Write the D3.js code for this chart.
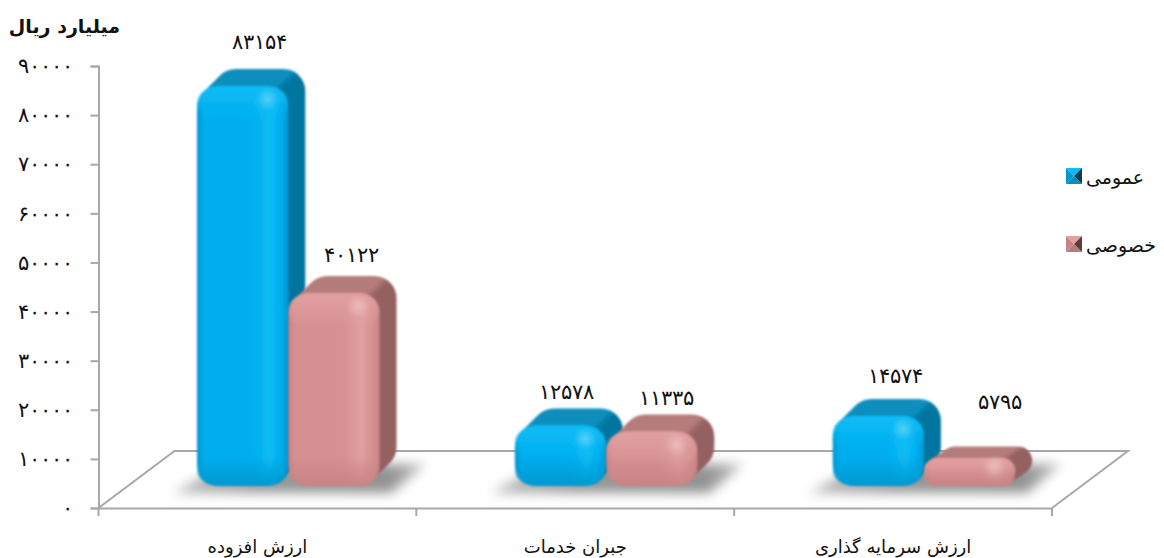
<!DOCTYPE html>
<html lang="fa">
<head>
<meta charset="utf-8">
<script src="https://cdnjs.cloudflare.com/ajax/libs/d3/7.8.5/d3.min.js"></script>
<style>
	html, body { margin: 0; padding: 0; background: #fff; }
	text { font-family: "DejaVu Sans", sans-serif; fill: #111; }
</style>
</head>
<body>
<div id="chart"></div>
<script>
const categories = ["ارزش افزوده", "جبران خدمات", "ارزش سرمایه گذاری"];
const seriesNames = ["عمومی", "خصوصی"];
const publicValues = [83154, 12578, 14574];
const privateValues = [40122, 11335, 5795];
const yTicks = [0, 10000, 20000, 30000, 40000, 50000, 60000, 70000, 80000, 90000];
const unitLabel = "میلیارد ریال";

const width = 1164;
const height = 558;
const axisColor = "#a8a8a8";
const depth = 17;
const floorDx = 76;
const floorDy = 57;

// labels don't sit at a constant distance from the bars in the original
const labelNudge = [
	[[0, -4], [1, 2]],
	[[-11, 7], [-2, 7]],
	[[0, 0], [13, -16]],
];

const palette = [
	{ light: "#0cbcf5", front: "#00aeef", edge: "#0098d0", top: "#0a8ebd", side: "#00749f", deep: "#0b3d55" },
	{ light: "#e2a0a0", front: "#d69091", edge: "#c88485", top: "#b57b7b", side: "#946060", deep: "#5c3c3c" },
];

const toPersian = (n) =>
	String(n).replace(/\d/g, (d) => "۰۱۲۳۴۵۶۷۸۹"[+d]);

const svg = d3
	.select("#chart")
	.append("svg")
	.attr("width", width)
	.attr("height", height)
	.style("display", "block");

const defs = svg.append("defs");
defs.append("filter")
	.attr("id", "soft")
	.append("feGaussianBlur")
	.attr("stdDeviation", 0.8);
defs.append("filter")
	.attr("id", "shadowBlur")
	.attr("x", "-20%")
	.attr("width", "140%")
	.attr("y", "-40%")
	.attr("height", "180%")
	.append("feGaussianBlur")
	.attr("stdDeviation", 6);

palette.forEach((c, i) => {
	const front = defs.append("linearGradient").attr("id", `front${i}`);
	[[0, c.edge], [0.08, c.front], [0.6, c.front], [0.8, c.light], [0.92, c.front], [1, c.edge]].forEach(
		([o, col]) => front.append("stop").attr("offset", o).attr("stop-color", col)
	);
	const back = defs.append("linearGradient").attr("id", `back${i}`);
	[[0, c.top], [0.84, c.top], [0.92, c.side], [1, c.side]].forEach(([o, col]) =>
		back.append("stop").attr("offset", o).attr("stop-color", col)
	);
	const cap = defs.append("linearGradient").attr("id", `cap${i}`).attr("x2", 0).attr("y2", 1);
	cap.append("stop").attr("offset", 0).attr("stop-color", c.light);
	cap.append("stop").attr("offset", 1).attr("stop-color", c.light).attr("stop-opacity", 0);
	const foot = defs.append("linearGradient").attr("id", `foot${i}`).attr("x2", 0).attr("y2", 1);
	foot.append("stop").attr("offset", 0).attr("stop-color", c.edge).attr("stop-opacity", 0);
	foot.append("stop").attr("offset", 1).attr("stop-color", c.edge);
});

const glow = defs.append("radialGradient").attr("id", "glow");
glow.append("stop").attr("offset", 0).attr("stop-color", "#fff").attr("stop-opacity", 0.3);
glow.append("stop").attr("offset", 1).attr("stop-color", "#fff").attr("stop-opacity", 0);

const shade = defs.append("linearGradient").attr("id", "shade");
shade.append("stop").attr("offset", 0).attr("stop-color", "#bcbcbc");
shade.append("stop").attr("offset", 0.35).attr("stop-color", "#979797");
shade.append("stop").attr("offset", 0.85).attr("stop-color", "#929292");
shade.append("stop").attr("offset", 1).attr("stop-color", "#c0c0c0");

// Scales: the axis runs on the back wall, bars stand further forward on the floor
const xScale = d3.scaleBand().domain(categories).range([98.5, 1052]);
const yScale = d3.scaleLinear().domain([0, 90000]).range([508, 66]);
const barScale = d3.scaleLinear().domain([0, 90000]).range([486, 53]);
const innerScale = d3.scaleBand().domain(seriesNames).range([98.5, 281]);

// Floor
const floorY = yScale(0);
const x0 = xScale.range()[0];
const x1 = xScale.range()[1];
svg.append("path")
	.attr(
		"d",
		d3.line()([
			[x0, floorY],
			[x0 + floorDx, floorY - floorDy],
			[x1 + floorDx, floorY - floorDy],
			[x1, floorY],
		])
	)
	.attr("fill", "none")
	.attr("stroke", axisColor)
	.attr("stroke-width", 2);

// Axes
const yAxis = svg
	.append("g")
	.attr("transform", `translate(${x0}, 0)`)
	.call(
		d3.axisLeft(yScale).tickValues(yTicks).tickFormat(toPersian).tickSize(8).tickPadding(18)
	);
const xAxis = svg
	.append("g")
	.attr("transform", `translate(0, ${floorY})`)
	.call(d3.axisBottom(xScale).tickSize(0).tickPadding(32));

svg.append("g")
	.selectAll("line")
	.data(d3.range(categories.length + 1))
	.join("line")
	.attr("x1", (i) => x0 + i * xScale.step())
	.attr("x2", (i) => x0 + i * xScale.step())
	.attr("y1", floorY)
	.attr("y2", floorY + 8)
	.attr("stroke", axisColor)
	.attr("stroke-width", 2);

[yAxis, xAxis].forEach((axis) => {
	axis.selectAll("path, line").attr("stroke", axisColor).attr("stroke-width", 2);
	axis.attr("font-family", null).attr("font-size", null);
});
yAxis.selectAll("text").style("font-size", "21px").style("letter-spacing", "5px").style("font-weight", 200);
xAxis.selectAll("text").style("font-size", "18px");

// Bars
const rows = categories.map((name, c) => ({
	name,
	c,
	bars: [publicValues[c], privateValues[c]].map((value, s) => ({ value, s, c })),
}));

const groups = svg
	.append("g")
	.selectAll("g")
	.data(rows)
	.join("g")
	.attr("transform", (d) => `translate(${xScale(d.name)}, 0)`);

// Floor shadow behind each pair
groups
	.append("path")
	.attr("d", () => {
		const left = innerScale(seriesNames[0]);
		const right = innerScale.range()[1];
		return d3.line()([
			[left - 24, barScale(0) + 7],
			[right + 12, barScale(0) + 7],
			[right + 46, barScale(0) - 22],
			[left + 30, barScale(0) - 22],
		]);
	})
	.attr("fill", "url(#shade)")
	.attr("filter", "url(#shadowBlur)");

const bars = groups
	.selectAll("g.bar")
	.data((d) => d.bars)
	.join("g")
	.attr("class", "bar")
	.attr("filter", "url(#soft)");

const barX = (d) => innerScale(seriesNames[d.s]);
const barW = innerScale.bandwidth();
const barH = (d) => barScale(0) - barScale(d.value);
const radius = (d) => Math.min(22, barH(d) / 2);
const liftY = (d) => Math.min(depth, 6 + barH(d) / 5);

// Extruded back of the bar, stacked from the rear towards the front
bars.each(function (d) {
	const g = d3.select(this);
	d3.range(depth, 0, -1).forEach((k) => {
		g.append("rect")
			.attr("x", barX(d) + k)
			.attr("y", barScale(d.value) - (k * liftY(d)) / depth)
			.attr("width", barW)
			.attr("height", barH(d))
			.attr("rx", radius(d))
			.attr("fill", `url(#back${d.s})`);
	});
});

bars.append("rect")
	.attr("x", barX)
	.attr("y", (d) => barScale(d.value))
	.attr("width", barW)
	.attr("height", barH)
	.attr("rx", radius)
	.attr("fill", (d) => `url(#front${d.s})`);

bars.append("rect")
	.attr("x", barX)
	.attr("y", (d) => barScale(d.value))
	.attr("width", barW)
	.attr("height", (d) => radius(d) * 1.6)
	.attr("rx", radius)
	.attr("fill", (d) => `url(#cap${d.s})`);

bars.append("rect")
	.attr("x", barX)
	.attr("y", (d) => barScale(0) - radius(d) * 1.4)
	.attr("width", barW)
	.attr("height", (d) => radius(d) * 1.4)
	.attr("rx", radius)
	.attr("fill", (d) => `url(#foot${d.s})`);

bars.append("circle")
	.attr("cx", (d) => barX(d) + barW * 0.77)
	.attr("cy", (d) => barScale(d.value) + radius(d) * 0.6)
	.attr("r", 12)
	.attr("fill", "url(#glow)");

// Value labels
groups
	.selectAll("text.value")
	.data((d) => d.bars)
	.join("text")
	.attr("class", "value")
	.attr("text-anchor", "middle")
	.attr("x", (d) => barX(d) + barW / 2 + depth + labelNudge[d.c][d.s][0])
	.attr("y", (d) => barScale(d.value) - depth - 16 + labelNudge[d.c][d.s][1])
	.style("font-size", "21px")
	.style("letter-spacing", "4px")
	.style("font-weight", 200)
	.text((d) => toPersian(d.value));

// Unit title
svg.append("text")
	.attr("x", 120)
	.attr("y", 33)
	.attr("text-anchor", "end")
	.style("font-size", "19px")
	.style("font-weight", "bold")
	.text(unitLabel);

// Legend
const legendY = d3.scalePoint().domain(seriesNames).range([176, 244]);
const legend = svg
	.append("g")
	.selectAll("g")
	.data(seriesNames)
	.join("g")
	.attr("transform", (d) => `translate(1074, ${legendY(d)})`);

const facets = [
	{ pts: [[-8, -8], [8, -8], [0, 0]], key: "light" },
	{ pts: [[-8, -8], [-8, 8], [0, 0]], key: "edge" },
	{ pts: [[-8, 8], [8, 8], [0, 0]], key: "top" },
	{ pts: [[8, -8], [8, 8], [0, 0]], key: "deep" },
];
legend.each(function (name, i) {
	d3.select(this)
		.selectAll("path")
		.data(facets)
		.join("path")
		.attr("d", (f) => d3.line()(f.pts) + "Z")
		.attr("fill", (f) => palette[i][f.key]);
});
legend
	.append("text")
	.attr("x", 12)
	.attr("y", 8)
	.attr("direction", "rtl")
	.style("text-anchor", "end")
	.style("font-size", "19px")
	.text((d) => d);
</script>
</body>
</html>
